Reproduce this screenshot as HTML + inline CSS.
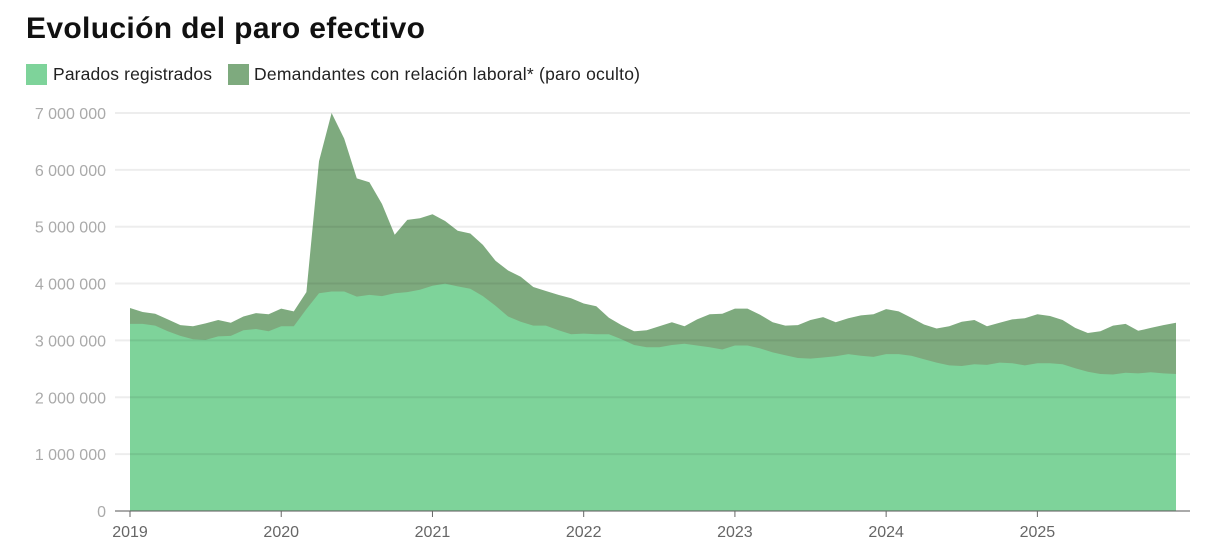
<!DOCTYPE html>
<html><head><meta charset="utf-8"><style>
body{margin:0;background:#fff;width:1206px;height:556px;overflow:hidden;font-family:"Liberation Sans",sans-serif}
</style></head><body>
<svg id="c" width="1206" height="556" xmlns="http://www.w3.org/2000/svg" style="position:absolute;left:0;top:0">
<text x="26" y="38" font-size="30" font-weight="bold" fill="#111" font-family="Liberation Sans, sans-serif" textLength="399">Evolución del paro efectivo</text>
<rect x="26" y="64" width="21" height="21" fill="#7ed39a"/>
<text x="53" y="80" font-size="17.5" fill="#222" textLength="159">Parados registrados</text>
<rect x="228" y="64" width="21" height="21" fill="#7eaa7e"/>
<text x="254" y="80" font-size="17.5" fill="#222" textLength="386">Demandantes con relación laboral* (paro oculto)</text>
<g id="g"></g>
</svg>
<script>
var reg=[3.29,3.29,3.26,3.16,3.08,3.02,3.01,3.07,3.08,3.18,3.2,3.16,
3.25,3.25,3.55,3.83,3.86,3.86,3.77,3.8,3.78,3.83,3.85,3.89,
3.96,4.0,3.95,3.91,3.78,3.61,3.42,3.33,3.26,3.26,3.18,3.11,
3.12,3.11,3.11,3.02,2.92,2.88,2.88,2.92,2.94,2.91,2.88,2.84,
2.91,2.91,2.86,2.79,2.74,2.69,2.68,2.7,2.72,2.76,2.73,2.71,
2.76,2.76,2.73,2.67,2.61,2.56,2.55,2.58,2.57,2.61,2.6,2.56,
2.6,2.6,2.58,2.51,2.45,2.41,2.40,2.43,2.42,2.44,2.42,2.41];
var tot=[3.57,3.5,3.47,3.37,3.27,3.25,3.3,3.36,3.31,3.42,3.48,3.46,
3.56,3.51,3.85,6.15,7.0,6.55,5.85,5.78,5.4,4.86,5.12,5.15,
5.22,5.1,4.93,4.88,4.68,4.4,4.23,4.12,3.94,3.87,3.8,3.74,
3.65,3.6,3.4,3.27,3.16,3.18,3.25,3.32,3.25,3.37,3.46,3.47,
3.56,3.56,3.45,3.32,3.26,3.27,3.36,3.41,3.32,3.39,3.44,3.46,
3.55,3.51,3.4,3.28,3.21,3.25,3.33,3.36,3.25,3.31,3.37,3.39,
3.46,3.43,3.36,3.22,3.13,3.16,3.26,3.29,3.17,3.22,3.27,3.31];
function X(i){return 130+i*(1176-130)/83}
function Y(v){return 511-v*56.86}
var s='';
function poly(a,c){var p=X(0)+','+511;for(var i=0;i<a.length;i++)p+=' '+X(i).toFixed(1)+','+Y(a[i]).toFixed(1);p+=' '+X(83)+',511';return '<polygon points="'+p+'" fill="'+c+'"/>';}
s+=poly(tot,'#7eaa7e')+poly(reg,'#7ed39a');
var labs=['0','1 000 000','2 000 000','3 000 000','4 000 000','5 000 000','6 000 000','7 000 000'];
for(var k=0;k<=7;k++){var y=Y(k);
s+='<line x1="115" x2="1190" y1="'+y+'" y2="'+y+'" stroke="#000" stroke-opacity="0.07" stroke-width="2"/>';
s+='<text x="106" y="'+(y+6)+'" font-size="16" fill="#aaa" text-anchor="end">'+labs[k]+'</text>';}
s+='<line x1="115" x2="1190" y1="511" y2="511" stroke="#666" stroke-width="1"/>';
for(var j=0;j<7;j++){var x=X(j*12);s+='<line x1="'+x+'" x2="'+x+'" y1="511" y2="517" stroke="#666"/>';
s+='<text x="'+x+'" y="537" font-size="16" fill="#666" text-anchor="middle">'+(2019+j)+'</text>';}
document.getElementById('g').innerHTML=s;
</script>
</body></html>
